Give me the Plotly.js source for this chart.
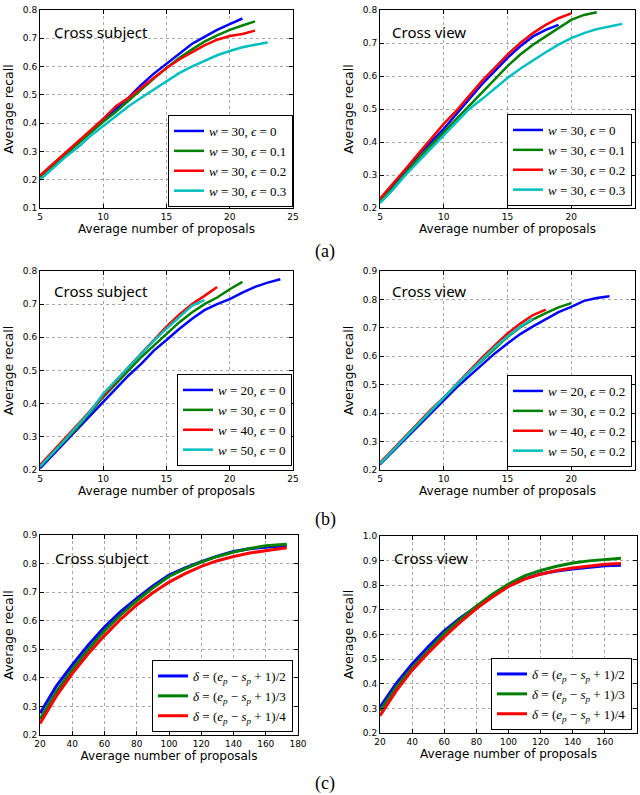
<!DOCTYPE html>
<html><head><meta charset="utf-8">
<script src="https://cdn.plot.ly/plotly-3.0.1.min.js"></script>
<style>html,body{margin:0;padding:0;background:#fff}#chart{width:640px;height:795px}</style>
</head><body><div id="chart"></div>
<script>
// ---- data ----
const proposalsA = [5,6,7,8,9,10,11,12,13,14,15,16,17,18,19,20,21,22,23,24];
const proposalsC1 = [20,30,40,50,60,70,80,90,100,110,120,130,140,150,160,173];
const proposalsC2 = [20,30,40,50,60,70,80,90,100,110,120,130,140,150,160,170];

const legendA = ['<i>w</i> = 30, <i>ϵ</i> = 0','<i>w</i> = 30, <i>ϵ</i> = 0.1','<i>w</i> = 30, <i>ϵ</i> = 0.2','<i>w</i> = 30, <i>ϵ</i> = 0.3'];
const legendB1 = ['<i>w</i> = 20, <i>ϵ</i> = 0','<i>w</i> = 30, <i>ϵ</i> = 0','<i>w</i> = 40, <i>ϵ</i> = 0','<i>w</i> = 50, <i>ϵ</i> = 0'];
const legendB2 = ['<i>w</i> = 20, <i>ϵ</i> = 0.2','<i>w</i> = 30, <i>ϵ</i> = 0.2','<i>w</i> = 40, <i>ϵ</i> = 0.2','<i>w</i> = 50, <i>ϵ</i> = 0.2'];
const legendC = ['<i>δ</i> = (<i>e<sub>p</sub></i> − <i>s<sub>p</sub></i> + 1)/2','<i>δ</i> = (<i>e<sub>p</sub></i> − <i>s<sub>p</sub></i> + 1)/3','<i>δ</i> = (<i>e<sub>p</sub></i> − <i>s<sub>p</sub></i> + 1)/4'];

// (a) cross subject
const aCS_e0  = [0.21,0.25,0.29,0.33,0.37,0.415,0.45,0.49,0.535,0.575,0.61,0.648,0.68,0.705,0.73,0.75,0.77];
const aCS_e01 = [0.21,0.248,0.288,0.328,0.368,0.405,0.44,0.48,0.52,0.558,0.595,0.63,0.66,0.688,0.71,0.73,0.745,0.76];
const aCS_e02 = [0.215,0.255,0.295,0.337,0.378,0.415,0.46,0.49,0.525,0.56,0.595,0.625,0.65,0.675,0.695,0.708,0.715,0.727];
const aCS_e03 = [0.20,0.24,0.28,0.315,0.355,0.39,0.425,0.46,0.49,0.52,0.55,0.577,0.6,0.62,0.64,0.655,0.668,0.677,0.685];
// (a) cross view
const aCV_e0  = [0.225,0.27,0.315,0.36,0.40,0.44,0.485,0.53,0.575,0.615,0.655,0.69,0.72,0.74,0.755];
const aCV_e01 = [0.22,0.26,0.305,0.35,0.39,0.43,0.47,0.51,0.55,0.59,0.63,0.665,0.695,0.72,0.745,0.77,0.785,0.793];
const aCV_e02 = [0.228,0.272,0.318,0.364,0.41,0.455,0.495,0.54,0.585,0.625,0.665,0.70,0.73,0.755,0.775,0.79];
const aCV_e03 = [0.215,0.255,0.30,0.34,0.38,0.42,0.46,0.50,0.53,0.562,0.594,0.622,0.648,0.672,0.695,0.715,0.73,0.742,0.75,0.758];
// (b) cross subject
const bCS_w20 = [0.205,0.245,0.285,0.325,0.365,0.405,0.445,0.485,0.52,0.56,0.592,0.625,0.655,0.682,0.70,0.715,0.735,0.752,0.765,0.775];
const bCS_w30 = [0.21,0.25,0.29,0.33,0.375,0.42,0.46,0.50,0.54,0.575,0.61,0.645,0.675,0.70,0.72,0.745,0.767];
const bCS_w40 = [0.215,0.255,0.295,0.338,0.38,0.425,0.468,0.51,0.55,0.592,0.632,0.668,0.70,0.725,0.752];
const bCS_w50 = [0.21,0.25,0.292,0.335,0.378,0.43,0.47,0.51,0.55,0.59,0.626,0.66,0.695,0.712];
// (b) cross view
const bCV_w20 = [0.22,0.265,0.31,0.355,0.40,0.445,0.49,0.53,0.57,0.61,0.645,0.678,0.705,0.73,0.755,0.774,0.795,0.805,0.811];
const bCV_w30 = [0.222,0.268,0.314,0.36,0.408,0.455,0.50,0.545,0.585,0.628,0.668,0.702,0.73,0.752,0.772,0.787];
const bCV_w40 = [0.225,0.272,0.318,0.365,0.412,0.455,0.502,0.548,0.595,0.638,0.68,0.715,0.745,0.764];
const bCV_w50 = [0.222,0.27,0.316,0.362,0.41,0.455,0.50,0.545,0.59,0.632,0.67,0.705,0.733];
// (c) cross subject
const cCS_d2 = [0.276,0.37,0.445,0.515,0.578,0.632,0.678,0.722,0.76,0.785,0.807,0.826,0.842,0.852,0.857,0.862];
const cCS_d3 = [0.255,0.35,0.43,0.50,0.565,0.62,0.67,0.715,0.755,0.782,0.805,0.825,0.84,0.853,0.862,0.868];
const cCS_d4 = [0.24,0.335,0.415,0.485,0.548,0.605,0.655,0.698,0.735,0.765,0.79,0.81,0.825,0.837,0.845,0.855];
// (c) cross view
const cCV_d2 = [0.305,0.40,0.48,0.55,0.615,0.667,0.713,0.757,0.796,0.826,0.846,0.858,0.866,0.873,0.879,0.881];
const cCV_d3 = [0.29,0.385,0.465,0.537,0.605,0.662,0.715,0.763,0.805,0.838,0.86,0.877,0.89,0.899,0.905,0.91];
const cCV_d4 = [0.27,0.37,0.455,0.525,0.59,0.65,0.705,0.752,0.795,0.825,0.845,0.86,0.87,0.879,0.885,0.888];

// ---- build ----
const COL4 = ['#0000ff','#008000','#ff0000','#00bfbf'];
const COL3 = ['#0000ff','#008000','#ff0000'];
const traces = [];
function add(panel, xs, series, names, cols, lw){
  series.forEach((ys,i)=>{
    traces.push({type:'scatter', mode:'lines', x:xs.slice(0,ys.length), y:ys, name:names[i],
      line:{color:cols[i], width:lw}, xaxis:'x'+(panel===1?'':panel), yaxis:'y'+(panel===1?'':panel),
      legend: panel===1?'legend':'legend'+panel});
  });
}
add(1, proposalsA, [aCS_e0,aCS_e01,aCS_e02,aCS_e03], legendA, COL4, 2.5);
add(2, proposalsA, [aCV_e0,aCV_e01,aCV_e02,aCV_e03], legendA, COL4, 2.5);
add(3, proposalsA, [bCS_w20,bCS_w30,bCS_w40,bCS_w50], legendB1, COL4, 2.5);
add(4, proposalsA, [bCV_w20,bCV_w30,bCV_w40,bCV_w50], legendB2, COL4, 2.5);
add(5, proposalsC1, [cCS_d2,cCS_d3,cCS_d4], legendC, COL3, 3);
add(6, proposalsC2, [cCV_d2,cCV_d3,cCV_d4], legendC, COL3, 3);

const W=640,H=795;
const px=v=>v/W, py=v=>1-v/H;
function xax(l,r,range,dt,anchor){
  return {domain:[px(l),px(r)], range:range, dtick:dt, tick0:0, anchor:anchor,
    showline:true, linecolor:'#000', linewidth:1, mirror:'ticks', ticks:'inside', ticklen:4,
    tickcolor:'#000', showgrid:true, gridcolor:'#a8a8a8', griddash:'dot', gridwidth:1, zeroline:false,
    tickfont:{family:'DejaVu Sans', size:9, color:'#000'},
    title:{text:'Average number of proposals', font:{family:'DejaVu Sans', size:12, color:'#000'}, standoff:2}};
}
function yax(t,b,range,anchor){
  return {domain:[py(b),py(t)], range:range, dtick:0.1, tick0:0, tickformat:'.1f', anchor:anchor,
    showline:true, linecolor:'#000', linewidth:1, mirror:'ticks', ticks:'inside', ticklen:4,
    tickcolor:'#000', showgrid:true, gridcolor:'#a8a8a8', griddash:'dot', gridwidth:1, zeroline:false,
    tickfont:{family:'DejaVu Sans', size:9, color:'#000'},
    title:{text:'Average recall', font:{family:'DejaVu Sans', size:12.5, color:'#000'}, standoff:6}};
}
function leg(r,b){
  return {x:px(r), y:py(b), xanchor:'right', yanchor:'bottom', xref:'paper', yref:'paper',
    bgcolor:'#fff', bordercolor:'#000', borderwidth:1, tracegroupgap:0,
    font:{family:'Liberation Serif', size:13, color:'#000'}, itemwidth:30};
}
const annFont = {family:'Noto Sans', size:15, color:'#000'};
function title(x,y,t){return {text:t, x:px(x), y:py(y), xref:'paper', yref:'paper', xanchor:'left', yanchor:'middle', showarrow:false, font:annFont};}
function lab(y,t){return {text:t, x:px(325), y:py(y), xref:'paper', yref:'paper', xanchor:'center', yanchor:'middle', showarrow:false, font:{family:'Liberation Serif', size:18, color:'#000'}};}

const layout = {
  width:W, height:H, margin:{l:0,r:0,t:0,b:0}, paper_bgcolor:'#fff', plot_bgcolor:'#fff', showlegend:true,
  xaxis: xax(40,293,[5,25],5,'y'),   yaxis: yax(10,208,[0.1,0.8],'x'),
  xaxis2:xax(380,635,[5,25],5,'y2'), yaxis2:yax(10,208,[0.2,0.8],'x2'),
  xaxis3:xax(40,293,[5,25],5,'y3'),  yaxis3:yax(271,470,[0.2,0.8],'x3'),
  xaxis4:xax(380,635,[5,25],5,'y4'), yaxis4:yax(271,470,[0.2,0.9],'x4'),
  xaxis5:xax(40,298,[20,180],20,'y5'), yaxis5:yax(535,735,[0.2,0.9],'x5'),
  xaxis6:xax(380,637,[20,180],20,'y6'), yaxis6:yax(536,733,[0.2,1.0],'x6'),
  legend:leg(293,207), legend2:leg(632,206), legend3:leg(292,466), legend4:leg(632,467),
  legend5:leg(293,732), legend6:leg(632,730),
  annotations:[
    title(52,32,'Cross subject'), title(390,32,'Cross view'),
    title(52,291,'Cross subject'), title(390,291,'Cross view'),
    title(53,558,'Cross subject'), title(392,558,'Cross view'),
    lab(252,'(a)'), lab(519,'(b)'), lab(783,'(c)')
  ]
};
Plotly.newPlot('chart', traces, layout, {displayModeBar:false, staticPlot:true});
</script></body></html>
